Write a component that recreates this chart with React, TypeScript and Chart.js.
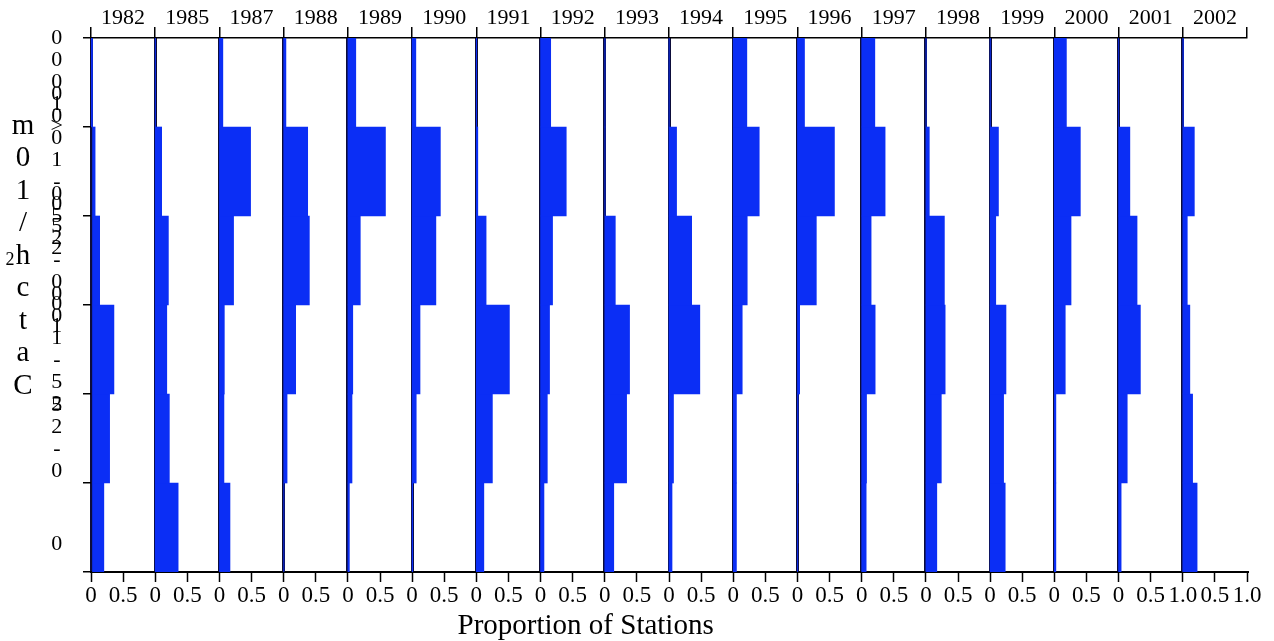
import React, { useEffect, useRef } from 'react';
import { Chart, registerables } from 'chart.js';

Chart.register(...registerables);

// Panels (years), left to right
const YEARS = ['1982', '1985', '1987', '1988', '1989', '1990', '1991', '1992', '1993', '1994', '1995', '1996', '1997', '1998', '1999', '2000', '2001', '2002'];

// Catch classes, bottom to top
const BIN_LABELS = ['0', '0-25', '25-100', '100-250', '250-1000', '>1000'];

// Proportion of stations per class (bottom to top) for each year
const P1982 = [0.2, 0.29, 0.357, 0.135, 0.064, 0.005];
const P1985 = [0.357, 0.22, 0.18, 0.205, 0.1, 0.005];
const P1987 = [0.164, 0.07, 0.076, 0.22, 0.485, 0.053];
const P1988 = [0.005, 0.053, 0.187, 0.4, 0.374, 0.035];
const P1989 = [0.023, 0.064, 0.076, 0.193, 0.585, 0.123];
const P1990 = [0.01, 0.064, 0.123, 0.37, 0.44, 0.058];
const P1991 = [0.117, 0.25, 0.515, 0.152, 0.023, 0.005];
const P1992 = [0.053, 0.105, 0.14, 0.187, 0.4, 0.158];
const P1993 = [0.14, 0.34, 0.386, 0.164, 0.005, 0.005];
const P1994 = [0.047, 0.07, 0.48, 0.353, 0.118, 0.005];
const P1995 = [0.05, 0.05, 0.14, 0.218, 0.405, 0.212];
const P1996 = [0.005, 0.01, 0.035, 0.294, 0.576, 0.11];
const P1997 = [0.07, 0.076, 0.21, 0.147, 0.365, 0.205];
const P1998 = [0.17, 0.24, 0.3, 0.288, 0.053, 0.005];
const P1999 = [0.235, 0.21, 0.247, 0.088, 0.13, 0.005];
const P2000 = [0.024, 0.024, 0.17, 0.26, 0.405, 0.188];
const P2001 = [0.04, 0.135, 0.34, 0.288, 0.176, 0.003];
const P2002 = [0.223, 0.153, 0.11, 0.07, 0.18, 0.01];

const SERIES = [P1982, P1985, P1987, P1988, P1989, P1990, P1991, P1992, P1993, P1994, P1995, P1996, P1997, P1998, P1999, P2000, P2001, P2002];

const X_TICK_ZERO = '0';
const X_TICK_HALF = '0.5';
const X_TICK_ONE = '1.0';
const X_TITLE = 'Proportion of Stations';
const Y_TITLE = 'Catch/10m';
const Y_TITLE_SUP = '2';

const FONT = 'Liberation Serif';
const BAR_COLOR = '#0b2ef5';
const BASE_COLOR = '#0d0d3a';

export default function App() {
  const ref = useRef<HTMLCanvasElement>(null);

  useEffect(() => {
    document.body.style.margin = '0';
    const canvas = ref.current;
    if (!canvas) return;
    const n = YEARS.length;
    Chart.defaults.font.family = FONT;

    const datasets = SERIES.map((vals, k) => ({
      label: YEARS[k],
      data: vals.map((v) => [k, k + v]),
      backgroundColor: BAR_COLOR,
      borderWidth: 0,
      barPercentage: 1,
      categoryPercentage: 1,
      grouped: false,
    }));

    const tickValues: number[] = [];
    for (let i = 0; i <= n * 2; i++) tickValues.push(i / 2);

    const yTitlePlugin = {
      id: 'yTitleStacked',
      afterDraw(chart: any) {
        const ctx = chart.ctx;
        const area = chart.chartArea;
        const chars = Y_TITLE.split('').reverse();
        const stride = 32.5;
        const mid = (area.top + area.bottom) / 2 - 49;
        const y0 = mid - ((chars.length - 1) * stride) / 2;
        ctx.save();
        ctx.fillStyle = '#000';
        ctx.textAlign = 'center';
        ctx.textBaseline = 'middle';
        ctx.font = `29px "${FONT}"`;
        chars.forEach((c, i) => ctx.fillText(c, 23, y0 + i * stride));
        ctx.font = `18px "${FONT}"`;
        ctx.fillText(Y_TITLE_SUP, 10, y0 + 4 * stride + 4);
        ctx.restore();
      },
    };

    const chart = new Chart(canvas, {
      type: 'bar',
      data: { labels: BIN_LABELS, datasets: datasets as any },
      plugins: [yTitlePlugin],
      options: {
        indexAxis: 'y',
        animation: false,
        responsive: false,
        maintainAspectRatio: false,
        layout: { padding: { left: 0, right: 27, top: 0, bottom: 0 } },
        plugins: { legend: { display: false }, tooltip: { enabled: false } },
        scales: {
          x: {
            type: 'linear',
            position: 'bottom',
            min: 0,
            max: n,
            afterBuildTicks: (s: any) => {
              s.ticks = tickValues.map((v) => ({ value: v }));
            },
            afterFit: (s: any) => {
              s.height = 69;
            },
            ticks: {
              autoSkip: false,
              maxRotation: 0,
              minRotation: 0,
              padding: 0,
              color: '#000',
              font: { family: FONT, size: 23 },
              callback: (v: any) => {
                const num = Number(v);
                if (Math.abs(num % 1) > 1e-9) return X_TICK_HALF;
                return num >= n - 1 ? X_TICK_ONE : X_TICK_ZERO;
              },
            },
            grid: {
              drawOnChartArea: true,
              tickLength: 10,
              tickColor: '#000',
              tickWidth: 1.5,
              color: (c: any) => {
                const v = c.tick ? c.tick.value : undefined;
                return v !== undefined && Math.abs(v % 1) < 1e-9 && v < n ? BASE_COLOR : 'rgba(0,0,0,0)';
              },
              lineWidth: 3,
            },
            border: { display: true, color: '#000', width: 2 },
            title: {
              display: true,
              // trailing spaces shift the centred title left, as in the original layout
              text: X_TITLE + ' '.repeat(23),
              color: '#000',
              font: { family: FONT, size: 29 },
              padding: { top: 0, bottom: -3 },
            },
          },
          x2: {
            type: 'category',
            position: 'top',
            labels: YEARS,
            offset: true,
            afterFit: (s: any) => {
              s.height = 38;
            },
            ticks: {
              color: '#000',
              font: { family: FONT, size: 22, lineHeight: 1 },
              padding: -2,
              maxRotation: 0,
              autoSkip: false,
            },
            grid: { offset: true, drawOnChartArea: false, tickLength: 11, color: '#000', lineWidth: 1.5 },
            border: { display: true, color: '#000', width: 1.5 },
          },
          y: {
            type: 'category',
            position: 'left',
            reverse: true,
            offset: true,
            afterFit: (s: any) => {
              s.width = 91;
              s.paddingTop = 0;
              s.paddingBottom = 0;
            },
            ticks: {
              color: '#000',
              crossAlign: 'center',
              padding: 20,
              autoSkip: false,
              font: (ctx: any) => ({ family: FONT, size: 22, lineHeight: ctx.index === 0 ? '33px' : '22px' }),
              callback: (_v: any, i: number) => {
                const chars = BIN_LABELS[i].split('').reverse();
                return i === 0 ? ['', ...chars] : chars;
              },
            },
            grid: { offset: true, drawOnChartArea: false, tickLength: 8, color: '#000', lineWidth: 1.5 },
            border: { display: false },
          },
        },
      } as any,
    });

    return () => chart.destroy();
  }, []);

  return <canvas ref={ref} width={1274} height={641} style={{ display: 'block' }} />;
}
